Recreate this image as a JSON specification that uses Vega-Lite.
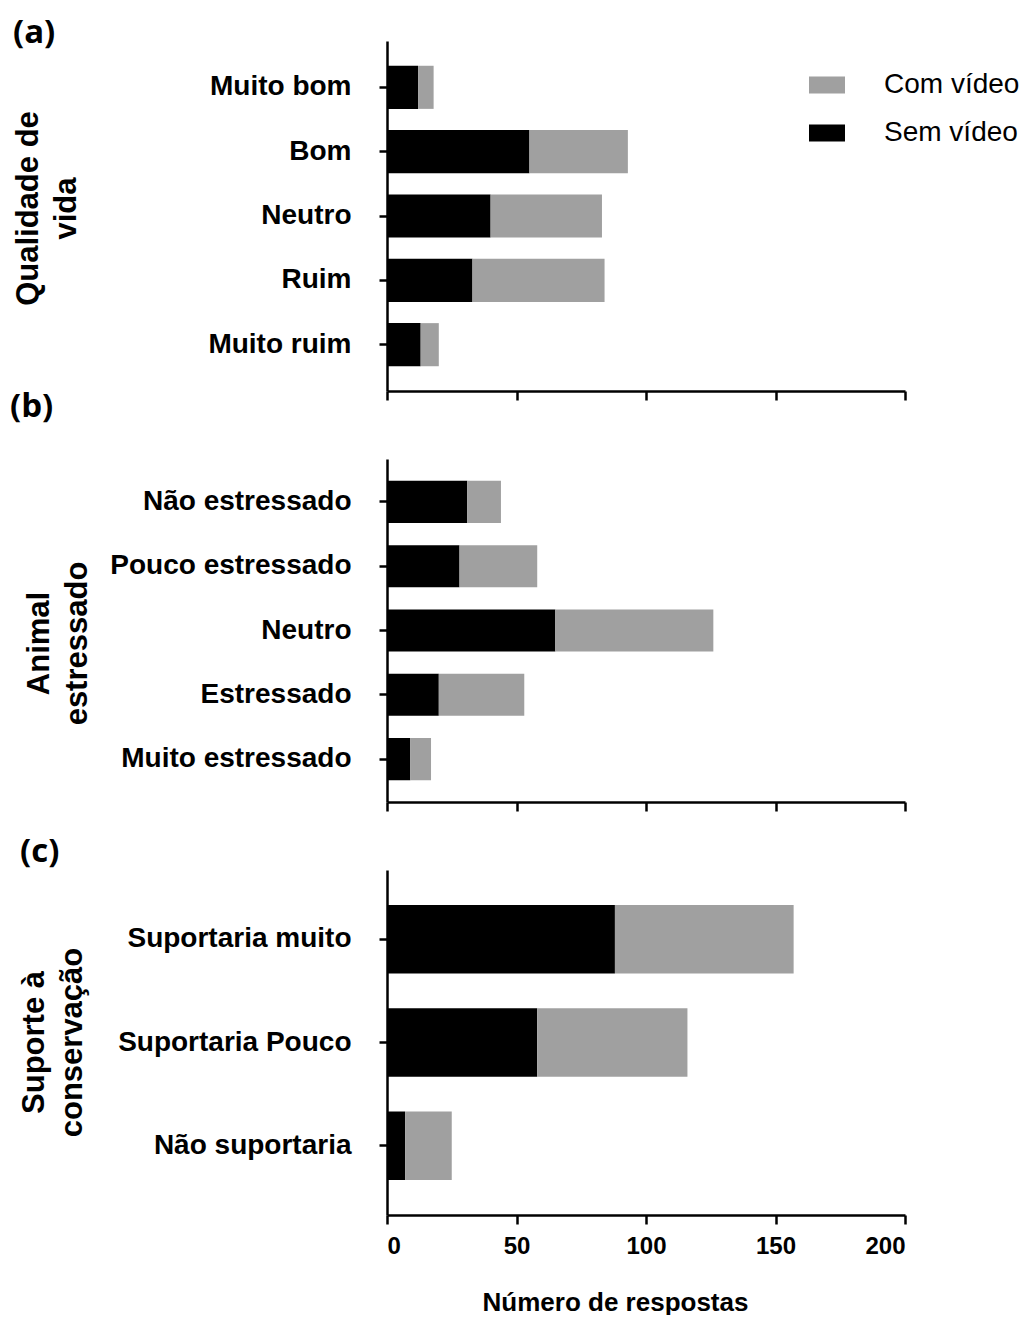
{
  "$schema": "https://vega.github.io/schema/vega-lite/v6.json",
  "background": "white",
  "padding": {"left": 10, "top": 17, "right": 4, "bottom": 0},
  "datasets": {
    "respostas": [
      {"painel": "a", "categoria": "Muito bom", "grupo": "Sem vídeo", "n": 12},
      {"painel": "a", "categoria": "Muito bom", "grupo": "Com vídeo", "n": 6},
      {"painel": "a", "categoria": "Bom", "grupo": "Sem vídeo", "n": 55},
      {"painel": "a", "categoria": "Bom", "grupo": "Com vídeo", "n": 38},
      {"painel": "a", "categoria": "Neutro", "grupo": "Sem vídeo", "n": 40},
      {"painel": "a", "categoria": "Neutro", "grupo": "Com vídeo", "n": 43},
      {"painel": "a", "categoria": "Ruim", "grupo": "Sem vídeo", "n": 33},
      {"painel": "a", "categoria": "Ruim", "grupo": "Com vídeo", "n": 51},
      {"painel": "a", "categoria": "Muito ruim", "grupo": "Sem vídeo", "n": 13},
      {"painel": "a", "categoria": "Muito ruim", "grupo": "Com vídeo", "n": 7},
      {"painel": "b", "categoria": "Não estressado", "grupo": "Sem vídeo", "n": 31},
      {"painel": "b", "categoria": "Não estressado", "grupo": "Com vídeo", "n": 13},
      {"painel": "b", "categoria": "Pouco estressado", "grupo": "Sem vídeo", "n": 28},
      {"painel": "b", "categoria": "Pouco estressado", "grupo": "Com vídeo", "n": 30},
      {"painel": "b", "categoria": "Neutro", "grupo": "Sem vídeo", "n": 65},
      {"painel": "b", "categoria": "Neutro", "grupo": "Com vídeo", "n": 61},
      {"painel": "b", "categoria": "Estressado", "grupo": "Sem vídeo", "n": 20},
      {"painel": "b", "categoria": "Estressado", "grupo": "Com vídeo", "n": 33},
      {"painel": "b", "categoria": "Muito estressado", "grupo": "Sem vídeo", "n": 9},
      {"painel": "b", "categoria": "Muito estressado", "grupo": "Com vídeo", "n": 8},
      {"painel": "c", "categoria": "Suportaria muito", "grupo": "Sem vídeo", "n": 88},
      {"painel": "c", "categoria": "Suportaria muito", "grupo": "Com vídeo", "n": 69},
      {"painel": "c", "categoria": "Suportaria Pouco", "grupo": "Sem vídeo", "n": 58},
      {"painel": "c", "categoria": "Suportaria Pouco", "grupo": "Com vídeo", "n": 58},
      {"painel": "c", "categoria": "Não suportaria", "grupo": "Sem vídeo", "n": 7},
      {"painel": "c", "categoria": "Não suportaria", "grupo": "Com vídeo", "n": 18}
    ]
  },
  "data": {"name": "respostas"},
  "bounds": "flush",
  "spacing": 68,
  "resolve": {
    "scale": {"color": "independent", "x": "independent", "y": "independent"},
    "legend": {"color": "independent"}
  },
  "vconcat": [
    {
      "width": 518,
      "height": 350,
      "title": {"text": "(a)", "anchor": "start", "frame": "group", "dx": -374, "offset": -35, "baseline": "alphabetic", "fontSize": 33, "font": "Open Sans", "fontWeight": "bold", "color": "black"},
      "transform": [{"filter": "datum.painel === 'a'"}],
      "mark": {"type": "bar"},
      "encoding": {
        "y": {
          "field": "categoria", "type": "nominal",
          "sort": ["Muito bom", "Bom", "Neutro", "Ruim", "Muito ruim"],
          "scale": {"paddingInner": 0.33, "paddingOuter": 0.385},
          "axis": {"title": ["Qualidade de", "vida"], "titleX": -350, "titleY": 167, "titleBaseline": "alphabetic", "titleAlign": "center", "titleAngle": 270}
        },
        "x": {
          "field": "n", "type": "quantitative", "stack": "zero",
          "scale": {"domain": [0, 200], "nice": false},
          "axis": {"values": [0, 50, 100, 150, 200], "labels": false, "title": null, "tickSize": 9}
        },
        "color": {
          "field": "grupo", "type": "nominal",
          "scale": {"domain": ["Com vídeo", "Sem vídeo"], "range": ["#a0a0a0", "#000000"]},
          "legend": {"orient": "none", "legendX": 422, "legendY": 26, "title": null, "symbolType": "M-1,-0.47H1V0.47H-1Z", "symbolSize": 1296, "symbolStrokeWidth": 0, "symbolOpacity": 1, "labelFontSize": 28, "labelFont": "Liberation Sans", "labelFontWeight": "normal", "labelColor": "black", "labelOffset": 39, "rowPadding": 16, "labelLimit": 300, "padding": 0}
        },
        "order": {"field": "grupo", "sort": "descending"}
      }
    },
    {
      "width": 518,
      "height": 343,
      "title": {"text": "(b)", "anchor": "start", "frame": "group", "dx": -377, "offset": 9, "baseline": "alphabetic", "fontSize": 33, "font": "Open Sans", "fontWeight": "bold", "color": "black"},
      "transform": [{"filter": "datum.painel === 'b'"}],
      "mark": {"type": "bar"},
      "encoding": {
        "y": {
          "field": "categoria", "type": "nominal",
          "sort": ["Não estressado", "Pouco estressado", "Neutro", "Estressado", "Muito estressado"],
          "scale": {"paddingInner": 0.345, "paddingOuter": 0.34},
          "axis": {"title": ["Animal", "estressado"], "titleX": -339, "titleY": 184, "titleBaseline": "alphabetic", "titleAlign": "center", "titleAngle": 270}
        },
        "x": {
          "field": "n", "type": "quantitative", "stack": "zero",
          "scale": {"domain": [0, 200], "nice": false},
          "axis": {"values": [0, 50, 100, 150, 200], "labels": false, "title": null, "tickSize": 9}
        },
        "color": {
          "field": "grupo", "type": "nominal",
          "scale": {"domain": ["Com vídeo", "Sem vídeo"], "range": ["#a0a0a0", "#000000"]},
          "legend": null
        },
        "order": {"field": "grupo", "sort": "descending"}
      }
    },
    {
      "width": 518,
      "height": 345,
      "title": {"text": "(c)", "anchor": "start", "frame": "group", "dx": -367, "offset": -25, "baseline": "alphabetic", "fontSize": 33, "font": "Open Sans", "fontWeight": "bold", "color": "black"},
      "transform": [{"filter": "datum.painel === 'c'"}],
      "mark": {"type": "bar"},
      "encoding": {
        "y": {
          "field": "categoria", "type": "nominal",
          "sort": ["Suportaria muito", "Suportaria Pouco", "Não suportaria"],
          "scale": {"paddingInner": 0.335, "paddingOuter": 0.338},
          "axis": {"title": ["Suporte à", "conservação"], "titleX": -344, "titleY": 172, "titleBaseline": "alphabetic", "titleAlign": "center", "titleAngle": 270}
        },
        "x": {
          "field": "n", "type": "quantitative", "stack": "zero",
          "scale": {"domain": [0, 200], "nice": false},
          "axis": {"values": [0, 50, 100, 150, 200], "labels": true, "labelFontSize": 24, "labelPadding": 10, "title": "Número de respostas", "titleFontSize": 26, "titleX": 228, "titleY": 95, "titleBaseline": "alphabetic", "titleAlign": "center", "tickSize": 9}
        },
        "color": {
          "field": "grupo", "type": "nominal",
          "scale": {"domain": ["Com vídeo", "Sem vídeo"], "range": ["#a0a0a0", "#000000"]},
          "legend": null
        },
        "order": {"field": "grupo", "sort": "descending"}
      }
    }
  ],
  "config": {
    "view": {"stroke": null},
    "font": "Liberation Sans",
    "axis": {
      "grid": false,
      "domainColor": "black", "domainWidth": 2.5,
      "tickColor": "black", "tickWidth": 2.5,
      "labelFont": "Liberation Sans", "labelFontWeight": "bold", "labelColor": "black",
      "titleFont": "Liberation Sans", "titleFontWeight": "bold", "titleColor": "black"
    },
    "axisY": {
      "tickSize": 8, "labelPadding": 28, "labelFontSize": 28, "labelLimit": 400,
      "titleFontSize": 31, "titleLineHeight": 38
    }
  }
}
